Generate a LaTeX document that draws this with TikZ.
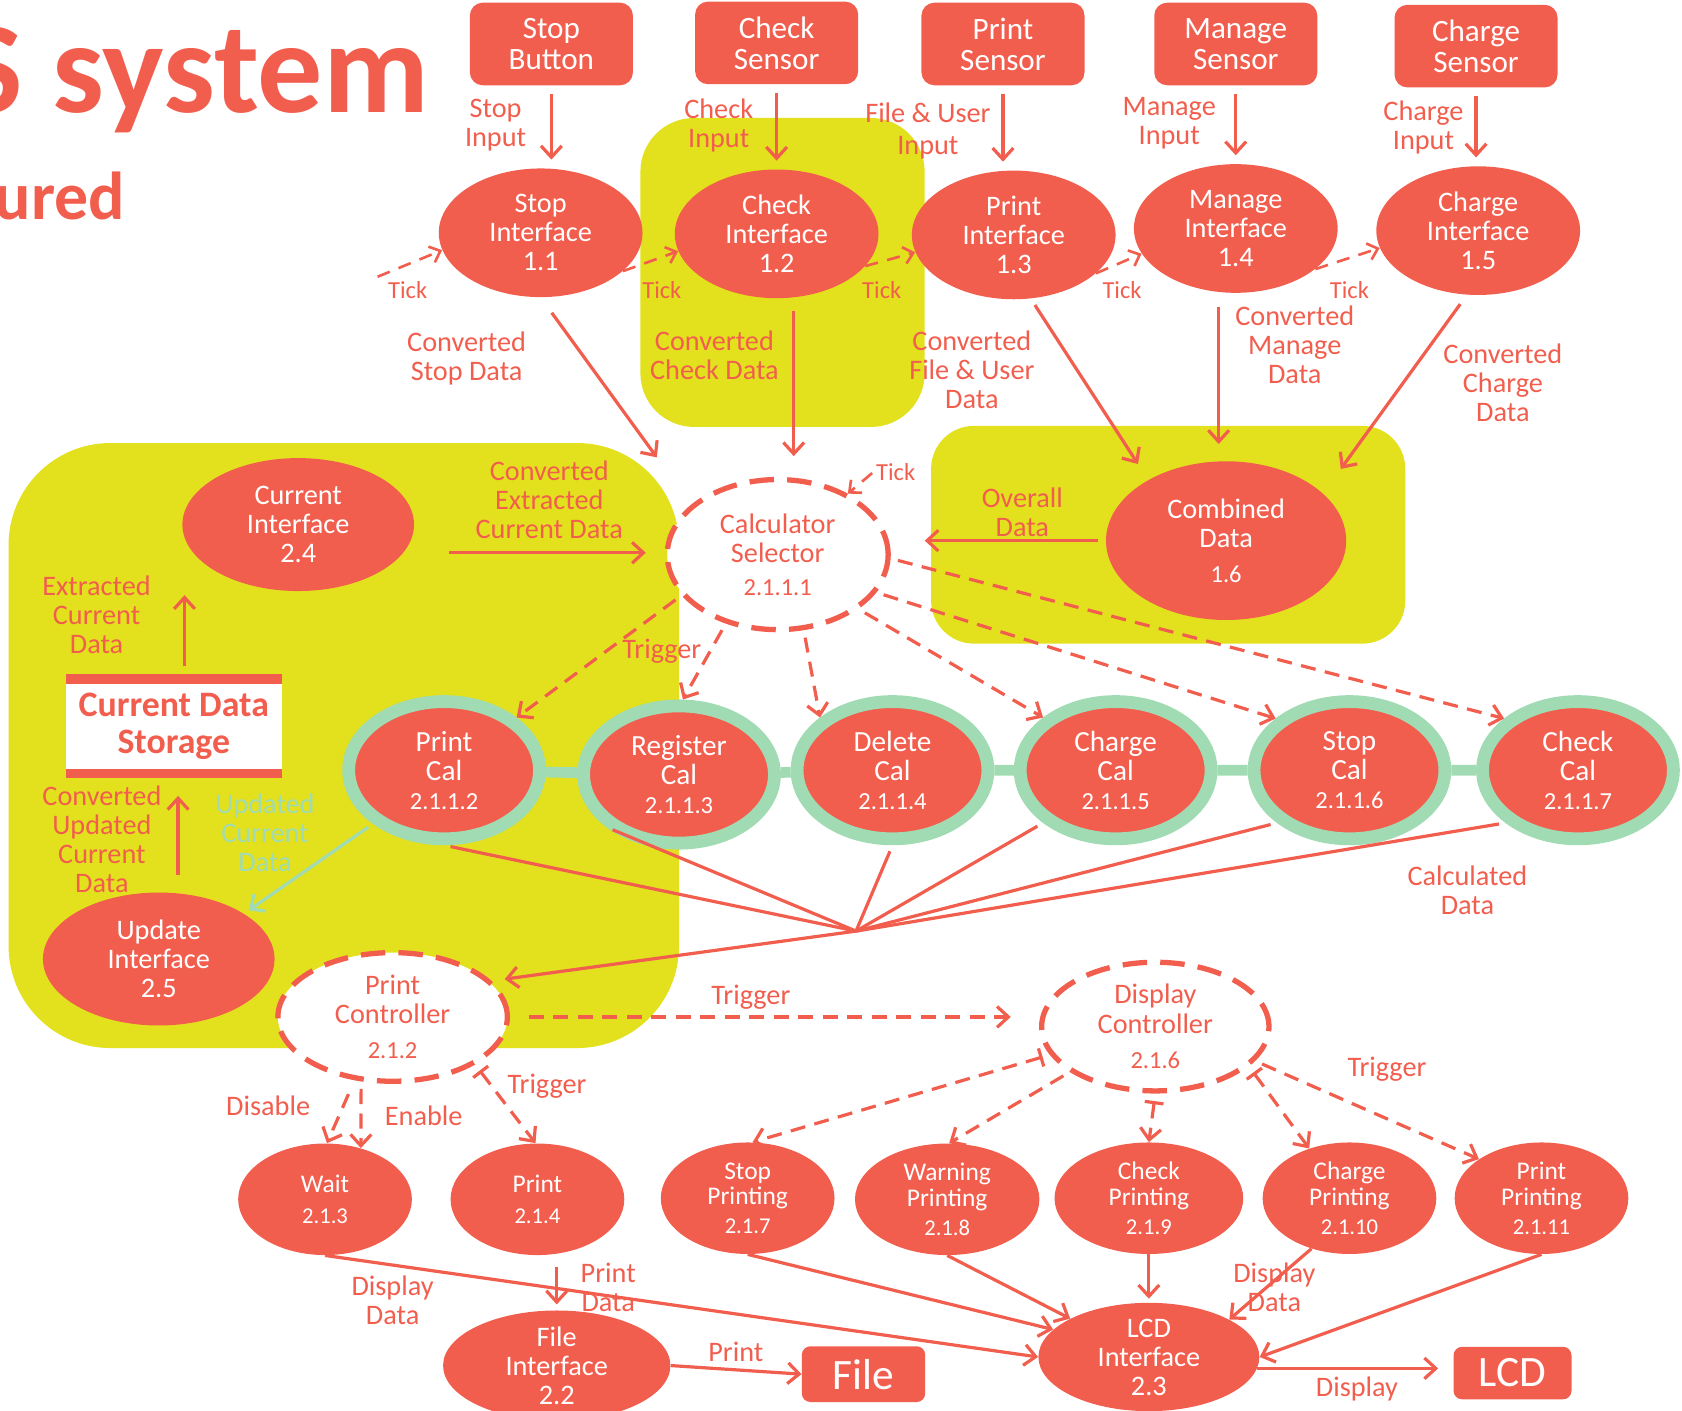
\documentclass[tikz,border=0pt]{standalone}
\usepackage{fontspec}
\setmainfont{Carlito}
\usetikzlibrary{shapes.geometric,arrows.meta,backgrounds}
\definecolor{dred}{RGB}{242,94,78}
\definecolor{yel}{RGB}{227,225,29}
\definecolor{mint}{RGB}{161,219,179}
\newcommand{\numa}{\fontsize{13}{13}\selectfont}
\newcommand{\numb}{\fontsize{12}{12}\selectfont}

\begin{document}
\begin{tikzpicture}[x=0.02cm, y=-0.02cm,
    esize/.style 2 args={minimum width=#1*0.04cm, minimum height=#2*0.04cm},
    ell/.style={ellipse, fill=dred, text=white, inner sep=0pt, align=center, font=\fontsize{15}{15.4}\selectfont},
    bell/.style={ell, esize={81}{52}, font=\fontsize{13.5}{13.7}\selectfont},
    cal/.style={ell, draw=mint, line width=6.8pt, esize={89}{64}, font=\fontsize{15.5}{15.4}\selectfont},
    dell/.style={ellipse, draw=dred, fill=white, text=dred, line width=2.8pt, dash pattern=on 13pt off 7pt, inner sep=0pt, align=center, font=\fontsize{15}{15.4}\selectfont},
    sensor/.style={rectangle, rounded corners=0.24cm, fill=dred, text=white, align=center, minimum width=3.04cm, minimum height=1.54cm, inner sep=0pt, font=\fontsize{16.5}{16.5}\selectfont},
    obox/.style={sensor, rounded corners=0.16cm, font=\fontsize{23}{23}\selectfont},
    lbl/.style={text=dred, align=center, inner sep=0pt, font=\fontsize{15}{15.4}\selectfont},
    tlbl/.style={lbl, font=\fontsize{13}{13}\selectfont},
    flow/.style={draw=dred, line width=1.7pt, -{Straight Barb[length=6pt, width=11pt]}},
    trig/.style={flow, dash pattern=on 8pt off 5pt, shorten <=4pt},
    tbar/.style={{Bar[width=10pt]}-{Straight Barb[length=6pt, width=11pt]}},
    tickarr/.style={flow, line width=1.4pt, dash pattern=on 7pt off 5pt, -{Straight Barb[length=5pt, width=9pt]}},
    dline/.style={draw=dred, line width=1.7pt, shorten <=3.5pt},
    ]
    \useasboundingbox (0,0) rectangle (1568,1315);

    \node[anchor=base east, inner sep=0pt, text=dred, font=\fontsize{69}{69}\selectfont\bfseries] (ttl) at (400,105) {S system};
    \node[anchor=base east, inner sep=0pt, text=dred, font=\fontsize{36}{36}\selectfont\bfseries] (sub) at (117,205) {ured};

    \node[sensor] (sb) at (514,41) {Stop\\Button};
    \node[sensor] (cs) at (724,40) {Check\\Sensor};
    \node[sensor] (ps) at (935,41) {Print\\Sensor};
    \node[sensor] (ms) at (1152,41) {Manage\\Sensor};
    \node[sensor] (chs) at (1376,43) {Charge\\Sensor};

    \node[ell, esize={95}{60}] (si1) at (504,217) {Stop\\Interface\\1.1};
    \node[ell, esize={95}{60}] (si2) at (724,218) {Check\\Interface\\1.2};
    \node[ell, esize={95}{60}] (si3) at (945,219) {Print\\Interface\\1.3};
    \node[ell, esize={95}{60}] (si4) at (1152,213) {Manage\\Interface\\1.4};
    \node[ell, esize={95}{60}] (si5) at (1378,215) {Charge\\Interface\\1.5};

    \node[dell, esize={103}{70}] (calc) at (725,517) {Calculator\\Selector\\[2pt]{\numa 2.1.1.1}};
    \node[ell, esize={112}{74}] (cd) at (1143,504) {Combined\\Data\\[3.4pt]{\numa 1.6}};
    \node[ell, esize={108}{62}] (ci) at (278,489) {Current\\Interface\\2.4};
    \node[ell, esize={108}{62}] (uif) at (148,894) {Update\\Interface\\2.5};
    \node[rectangle, fill=white, text=dred, inner sep=0pt, align=center, minimum width=4.02cm, minimum height=1.74cm, font=\fontsize{19}{20}\selectfont\bfseries] (cds) at (162,677) {Current Data\\Storage};
    \draw[dred, line width=5pt] (cds.north west) -- (cds.north east);
    \draw[dred, line width=5pt] (cds.south west) -- (cds.south east);

    \node[cal] (pcal) at (414,718) {Print\\Cal\\{\numa 2.1.1.2}};
    \node[cal] (rcal) at (633,722) {Register\\Cal\\{\numa 2.1.1.3}};
    \node[cal] (dcal) at (832,718) {Delete\\Cal\\{\numa 2.1.1.4}};
    \node[cal] (chcal) at (1040,718) {Charge\\Cal\\{\numa 2.1.1.5}};
    \node[cal] (stcal) at (1258,718) {Stop\\Cal\\{\numa 2.1.1.6}};
    \node[cal] (ckcal) at (1471,718) {Check\\Cal\\{\numa 2.1.1.7}};

    \node[dell, esize={107}{60}] (prc) at (366,948) {Print\\Controller\\[3.5pt]{\numa 2.1.2}};
    \node[dell, esize={106}{60}] (dic) at (1077,957) {Display\\Controller\\[3.5pt]{\numa 2.1.6}};

    \node[bell] (wt) at (303,1118) {Wait\\[3pt]{\numb 2.1.3}};
    \node[bell] (pt) at (501,1118) {Print\\[3pt]{\numb 2.1.4}};
    \node[bell] (sp) at (697,1117) {Stop\\Printing\\[1.5pt]{\numb 2.1.7}};
    \node[bell, esize={86}{52}] (wp) at (883,1118) {Warning\\Printing\\[1.5pt]{\numb 2.1.8}};
    \node[bell, esize={88}{52}] (ckp) at (1071,1117) {Check\\Printing\\[1.5pt]{\numb 2.1.9}};
    \node[bell] (chp) at (1258,1117) {Charge\\Printing\\[1.5pt]{\numb 2.1.10}};
    \node[bell] (prp) at (1437,1117) {Print\\Printing\\[1.5pt]{\numb 2.1.11}};

    \node[ell, esize={106}{50}] (fi) at (519,1273) {File\\Interface\\2.2};
    \node[ell, esize={103}{50}] (lcd) at (1071,1265) {LCD\\Interface\\2.3};
    \node[obox, minimum width=2.3cm, minimum height=1.04cm] (fb) at (805,1281) {File};
    \node[obox, minimum width=2.2cm, minimum height=0.98cm] (lb) at (1410,1280) {LCD};

    \draw[flow, shorten <=4.5pt, shorten >=4.5pt] (sb.south) -- (sb.south |- si1.north);
    \draw[flow, shorten <=4.5pt, shorten >=4.5pt] (cs.south) -- (cs.south |- si2.north);
    \draw[flow, shorten <=4.5pt, shorten >=4.5pt] (ps.south) -- (ps.south |- si3.north);
    \draw[flow, shorten <=4.5pt, shorten >=4.5pt] (ms.south) -- (ms.south |- si4.north);
    \draw[flow, shorten <=4.5pt, shorten >=4.5pt] (chs.south) -- (chs.south |- si5.north);
    \node[lbl] (lsb) at (462,117) {Stop\\Input};
    \node[lbl] (lcs) at (670,117) {Check\\Input};
    \node[lbl, font=\fontsize{15}{17}\selectfont] (lps) at (865,122) {File \& User\\Input};
    \node[lbl] (lms) at (1090,115) {Manage\\Input};
    \node[lbl] (lchs) at (1327,119) {Charge\\Input};

    \coordinate (tk0) at (352,258);
    \coordinate (tk6) at (813,441);
    \draw[tickarr] (tk0) -- (si1.190);
    \draw[tickarr] (si1.-25) -- (si2.190);
    \draw[tickarr] (si2.-20) -- (si3.190);
    \draw[tickarr] (si3.-25) -- (si4.195);
    \draw[tickarr] (si4.-27) -- (si5.190);
    \draw[tickarr] (tk6) -- (calc.41);
    \node[tlbl] (lt0) at (380,270) {Tick};
    \node[tlbl] (lt1) at (617,270) {Tick};
    \node[tlbl] (lt2) at (822,270) {Tick};
    \node[tlbl] (lt3) at (1046,270) {Tick};
    \node[tlbl] (lt4) at (1258,270) {Tick};
    \node[tlbl] (lt6) at (835,440) {Tick};

    \draw[flow, shorten <=10pt, shorten >=31pt] (si1.south) -- (calc.150);
    \draw[flow, shorten <=7pt, shorten >=11pt] (si2.-75) -- (si2.-75 |- calc.north);
    \draw[flow, shorten <=4pt, shorten >=10pt] (si3.-75) -- (cd.142);
    \draw[flow, shorten <=8pt, shorten >=9pt] (si4.-105) -- (si4.-105 |- cd.north);
    \draw[flow, shorten <=6pt, shorten >=16pt] (si5.-100) -- (cd.26);
    \draw[flow, shorten <=4pt, shorten >=18pt] (cd.west) -- (cd.west -| calc.east);
    \draw[flow, shorten <=24pt, shorten >=10pt] (ci.-15) -- (ci.-15 -| calc.west);
    \node[lbl] (lsd) at (435,334) {Converted\\Stop Data};
    \node[lbl] (lcd1) at (666,331) {Converted\\Check Data};
    \node[lbl] (lfd) at (906,345) {Converted\\File \& User\\Data};
    \node[lbl] (lmd) at (1207,321) {Converted\\Manage\\Data};
    \node[lbl] (lchd) at (1401,357) {Converted\\Charge\\Data};
    \node[lbl] (lod) at (953,478) {Overall\\Data};
    \node[lbl] (lecd) at (512,466) {Converted\\Extracted\\Current Data};

    \draw[flow, shorten <=7pt, shorten >=2pt] ([xshift=0.2cm]cds.north) -- ([xshift=0.2cm]cds.north |- ci.south);
    \draw[flow, shorten <=9pt, shorten >=12pt] ([xshift=0.08cm]cds.south |- uif.north) -- ([xshift=0.08cm]cds.south);
    \draw[flow, draw=mint, shorten <=3pt, shorten >=3pt] (pcal.-143) -- (uif.28);
    \node[lbl] (lexd) at (90,573) {Extracted\\Current\\Data};
    \node[lbl] (lcud) at (95,782) {Converted\\Updated\\Current\\Data};
    \node[lbl, text=mint] (lud) at (247,776) {Updated\\Current\\Data};

    \draw[trig] (calc.203) -- (pcal.36);
    \draw[trig] (calc.233) -- (rcal.87);
    \draw[trig] (calc.-71) -- (dcal.144);
    \draw[trig] (calc.-34) -- (chcal.144);
    \draw[trig] (calc.-21) -- (stcal.145);
    \draw[trig] (calc.-2) -- (ckcal.145);
    \node[lbl] (ltr1) at (617,607) {Trigger};

    \coordinate (cj) at (798,868);
    \draw[dline] (pcal.south) -- (cj);
    \draw[dline] (rcal.-144) -- (cj);
    \draw[dline] (dcal.south) -- (cj);
    \draw[dline] (chcal.-144) -- (cj);
    \draw[dline] (stcal.-144) -- (cj);
    \draw[dline] (ckcal.-144) -- (cj);
    \draw[flow, shorten >=7pt] (cj) -- (prc.20);
    \node[lbl] (lcald) at (1368,830) {Calculated\\Data};

    \draw[trig, shorten <=10pt, shorten >=15pt] (prc.east) -- (prc.east -| dic.west);
    \draw[trig, shorten <=8pt] (prc.-121) -- (wt.88);
    \draw[trig] (prc.-116) -- (wt.55);
    \draw[trig, tbar] (prc.-30) -- (pt.92);
    \node[lbl] (ltr2) at (700,930) {Trigger};
    \node[lbl] (ldis) at (250,1031) {Disable};
    \node[lbl] (lena) at (395,1040) {Enable};
    \node[lbl] (ltr3) at (510,1013) {Trigger};

    \draw[trig, tbar] (dic.195) -- (sp.85);
    \draw[trig] (dic.208) -- (wp.88);
    \draw[trig, tbar] (dic.south) -- (ckp.north);
    \draw[trig, tbar] (dic.-23) -- (chp.129);
    \draw[trig] (dic.-19) -- (prp.148);
    \node[lbl] (ltr4) at (1293,997) {Trigger};

    \draw[flow] (wt.south) -- (lcd.west);
    \draw[flow] (sp.south) -- (lcd.164);
    \draw[flow] (wp.south) -- (lcd.154);
    \draw[flow, shorten >=2pt] (ckp.south) -- (lcd.north);
    \draw[flow] (chp.-127) -- (lcd.25);
    \draw[flow] (prp.south) -- (lcd.east);
    \draw[flow, shorten >=8pt] (lcd.-6) -- (lcd.-6 -| lb.west);
    \draw[flow, shorten <=6pt, shorten >=3pt] (pt.south -| fi.north) -- (fi.north);
    \draw[flow] (fi.east) -- (fb.west);
    \node[lbl] (ldd1) at (366,1212) {Display\\Data};
    \node[lbl] (lpd) at (567,1200) {Print\\Data};
    \node[lbl] (ldd2) at (1188,1200) {Display\\Data};
    \node[lbl] (lpr) at (686,1260) {Print};
    \node[lbl] (ldsp) at (1265,1295) {Display};

    \begin{scope}[on background layer]
        \fill[yel, rounded corners=1cm] (597,110) rectangle (862,398);
        \fill[yel, rounded corners=0.8cm] (868,397) rectangle (1310,600);
        \fill[yel, rounded corners=1.9cm] (8,413) rectangle (633,977);
        \draw[mint, line width=5.7pt] (pcal) -- (rcal) -- (dcal) -- (chcal) -- (stcal) -- (ckcal);
    \end{scope}
\end{tikzpicture}
\end{document}
